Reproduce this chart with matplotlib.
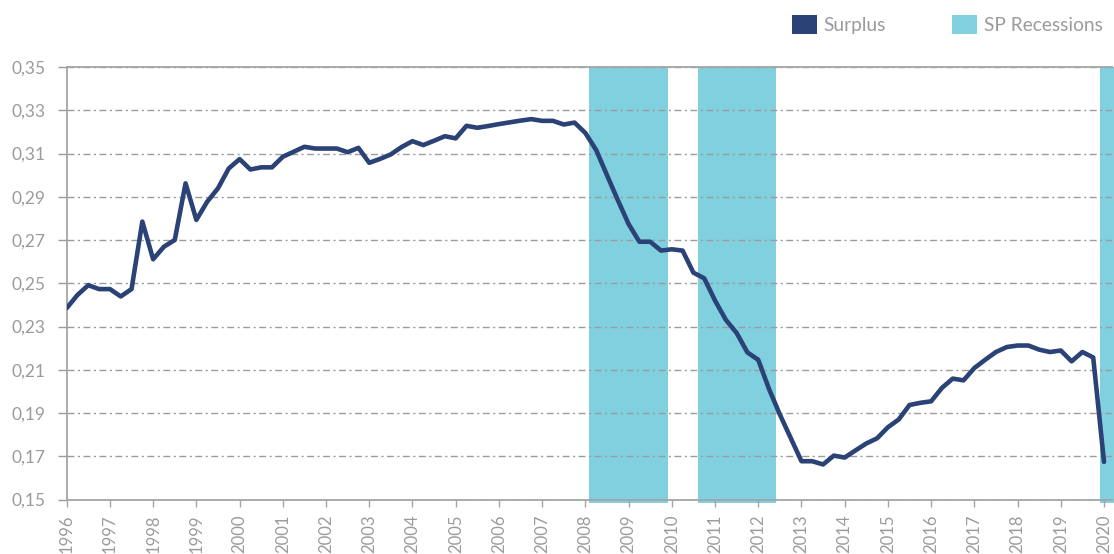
import numpy as np
import matplotlib
matplotlib.use("Agg")
import matplotlib.pyplot as plt
from matplotlib.patches import Patch

# ---- data (quarterly, 1996Q1 .. 2020Q1) ----
start_year = 1996
surplus = [
    0.2385, 0.2446, 0.2491, 0.2473,
    0.2473, 0.2439, 0.2473, 0.2785,
    0.2611, 0.2669, 0.2700, 0.2962,
    0.2793, 0.2877, 0.2939, 0.3031,
    0.3074, 0.3026, 0.3036, 0.3036,
    0.3085, 0.3108, 0.3131, 0.3123,
    0.3123, 0.3123, 0.3106, 0.3126,
    0.3057, 0.3075, 0.3096, 0.3130,
    0.3157, 0.3139, 0.3159, 0.3180,
    0.3170, 0.3228, 0.3219, 0.3227,
    0.3236, 0.3244, 0.3252, 0.3259,
    0.3251, 0.3251, 0.3234, 0.3243,
    0.3195, 0.3116, 0.3000, 0.2885,
    0.2774, 0.2692, 0.2692, 0.2651,
    0.2657, 0.2651, 0.2549, 0.2523,
    0.2420, 0.2331, 0.2270, 0.2180,
    0.2146, 0.2011, 0.1893, 0.1785,
    0.1677, 0.1677, 0.1662, 0.1703,
    0.1694, 0.1727, 0.1759, 0.1783,
    0.1834, 0.1870, 0.1937, 0.1947,
    0.1954, 0.2016, 0.2059, 0.2051,
    0.2108, 0.2146, 0.2182, 0.2205,
    0.2212, 0.2212, 0.2193, 0.2182,
    0.2189, 0.2139, 0.2182, 0.2157,
    0.1674,
]
dates = [start_year + i / 4 for i in range(len(surplus))]

recession_starts = [2008.09, 2010.60, 2019.91]
recession_ends = [2009.92, 2012.41, 2020.30]

year_ticks = list(range(1996, 2021))
y_ticks = [0.15, 0.17, 0.19, 0.21, 0.23, 0.25, 0.27, 0.29, 0.31, 0.33, 0.35]
y_labels = [f"{v:.2f}".replace(".", ",") for v in y_ticks]

# ---- style ----
plt.rcParams['font.family'] = ['Lato', 'DejaVu Sans']
line_color = '#2a4276'
band_color = '#80d0df'
text_color = '#999b9d'
axis_color = '#a3a5a7'
grid_color = '#9c9c9c'

fig = plt.figure(figsize=(11.14, 5.54), dpi=100)
ax = fig.add_axes([66.7 / 1114, 1 - 499.5 / 554, (1112 - 66.7) / 1114, (499.5 - 67) / 554])

for s, e in zip(recession_starts, recession_ends):
    ax.axvspan(s, e, ymin=-0.009, ymax=1, color=band_color, lw=0, zorder=0.2, clip_on=False)

ax.plot(dates, surplus, color=line_color, lw=3.3, zorder=3, solid_joinstyle='round',
        solid_capstyle='round')

ax.set_xlim(1996, 2020.185)
ax.set_ylim(0.15, 0.35)
ax.set_axisbelow(True)
ax.yaxis.grid(True, color=grid_color, lw=1.0, linestyle=(0, (5, 2.5, 1.5, 2.5)))
ax.xaxis.grid(False)

ax.set_yticks(y_ticks)
ax.set_yticklabels(y_labels)
ax.set_xticks(year_ticks)
ax.set_xticklabels([str(y) for y in year_ticks], rotation=90)

ax.tick_params(axis='y', length=6.5, width=1, color=grid_color, pad=8.5,
               labelsize=12.5, labelcolor=text_color)
ax.tick_params(axis='x', length=5, width=1, color=axis_color, pad=6,
               labelsize=12, labelcolor=text_color)

for side in ['left', 'bottom', 'top']:
    ax.spines[side].set_color(axis_color)
    ax.spines[side].set_linewidth(1.3)
ax.spines['right'].set_visible(False)

handles = [Patch(facecolor=line_color, edgecolor='none', label='Surplus'),
           Patch(facecolor=band_color, edgecolor='none', label='SP Recessions')]
leg = fig.legend(handles=handles, loc='upper right',
                 bbox_to_anchor=(1112 / 1114, 1 - 5 / 554),
                 ncol=2, frameon=False, fontsize=13.8, borderpad=0,
                 handlelength=1.33, handleheight=1.17, handletextpad=0.32,
                 columnspacing=3.45)
for t in leg.get_texts():
    t.set_color(text_color)

fig.savefig('out.png', dpi=100)
